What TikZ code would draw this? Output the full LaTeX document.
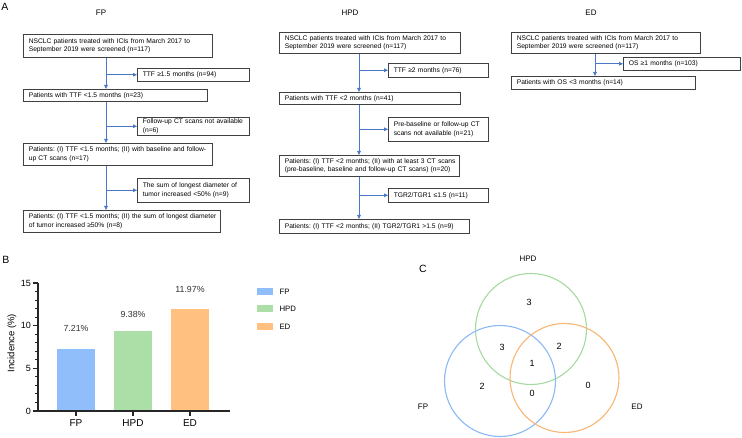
\documentclass[tikz,border=0pt]{standalone}
\usepackage{fontspec}
\setmainfont{Liberation Sans}
\usetikzlibrary{arrows.meta}
\definecolor{arrowblue}{HTML}{4A78C8}
\definecolor{fpblue}{HTML}{8FBEFA}
\definecolor{hpdgreen}{HTML}{ACDEA8}
\definecolor{edorange}{HTML}{FFC080}
\definecolor{vblue}{HTML}{8CBAF5}
\definecolor{vgreen}{HTML}{A6DBA0}
\definecolor{vorange}{HTML}{F9B675}
\begin{document}
\begin{tikzpicture}[x=1pt,y=-1pt,
  fbox/.style={draw=black!75, line width=0.6pt, anchor=north west, align=left,
    font=\fontsize{6.7}{8.4}\selectfont\frenchspacing, inner xsep=5.5pt, inner ysep=0pt},
  arr/.style={draw=arrowblue, line width=0.8pt, -{Triangle[length=4pt,width=3.6pt]}},
  title/.style={font=\fontsize{8}{9.6}\selectfont},
  panel/.style={font=\fontsize{10.5}{12}\selectfont},
  axis/.style={line width=1.1pt, black!85},
  ticklab/.style={font=\fontsize{9}{10}\selectfont},
  vallab/.style={font=\fontsize{8.8}{10}\selectfont, black!80},
  leglab/.style={font=\fontsize{7.8}{9}\selectfont, anchor=west},
  vlab/.style={font=\fontsize{8}{9}\selectfont},
  vnum/.style={font=\fontsize{9}{10}\selectfont},
  vcirc/.style={line width=1.1pt}
 ]
\useasboundingbox (0,0) rectangle (742,438);
\fill[white] (0,0) rectangle (742,438);

% ---------- Panel A ----------
\node[panel] (lA) at (5,7) {A};
\node[title] (tFP) at (101,13) {FP};
\node[title] (tHPD) at (350,13) {HPD};
\node[title] (tED) at (591,13) {ED};

% FP
\coordinate (fx) at (106,0);
\node[fbox, text width=178pt, minimum height=23pt] (f1) at (23,34)
  {\mbox{NSCLC patients treated with ICIs from March 2017 to}\\\mbox{September 2019 were screened (n=117)}};
\node[fbox, text width=101pt, minimum height=13pt] (fs1) at (137,68)
  {\mbox{TTF ≥1.5 months (n=94)}};
\node[fbox, text width=173pt, minimum height=12pt] (f2) at (23,89)
  {\mbox{Patients with TTF <1.5 months (n=23)}};
\node[fbox, text width=101pt, minimum height=18pt] (fs2) at (137,117)
  {\mbox{Follow-up CT scans not available}\\\mbox{(n=6)}};
\node[fbox, text width=178pt, minimum height=22pt] (f3) at (23,143)
  {\mbox{Patients: (I) TTF <1.5 months; (II) with baseline and follow-}\\\mbox{up CT scans (n=17)}};
\node[fbox, text width=101pt, minimum height=24pt] (fs3) at (137,178)
  {\mbox{The sum of longest diameter of}\\\mbox{tumor increased <50\% (n=9)}};
\node[fbox, text width=186pt, minimum height=22pt] (f4) at (23,210)
  {\mbox{Patients: (I) TTF <1.5 months; (II) the sum of longest diameter}\\\mbox{of tumor increased ≥50\% (n=8)}};
\draw[arr] (f1.south -| fx) -- (f2.north -| fx);
\draw[arr] (f2.south -| fx) -- (f3.north -| fx);
\draw[arr] (f3.south -| fx) -- (f4.north -| fx);
\draw[arr] (fs1.west -| fx) -- (fs1.west);
\draw[arr] (fs2.west -| fx) -- (fs2.west);
\draw[arr] (fs3.west -| fx) -- (fs3.west);

% HPD
\coordinate (hx) at (359,0);
\node[fbox, text width=170pt, minimum height=21pt] (h1) at (279,32)
  {\mbox{NSCLC patients treated with ICIs from March 2017 to}\\\mbox{September 2019 were screened (n=117)}};
\node[fbox, text width=89pt, minimum height=14pt] (hs1) at (388,63)
  {\mbox{TTF ≥2 months (n=76)}};
\node[fbox, text width=170pt, minimum height=12pt] (h2) at (279,92)
  {\mbox{Patients with TTF <2 months (n=41)}};
\node[fbox, text width=89pt, minimum height=24pt] (hs2) at (388,117)
  {\mbox{Pre-baseline or follow-up CT}\\\mbox{scans not available (n=21)}};
\node[fbox, text width=169pt, minimum height=21pt] (h3) at (279,155)
  {\mbox{Patients: (I) TTF <2 months; (II) with at least 3 CT scans}\\\mbox{(pre-baseline, baseline and follow-up CT scans) (n=20)}};
\node[fbox, text width=89pt, minimum height=14pt] (hs3) at (388,188)
  {\mbox{TGR2/TGR1 ≤1.5 (n=11)}};
\node[fbox, text width=179pt, minimum height=14pt] (h4) at (279,219)
  {\mbox{Patients: (I) TTF <2 months; (II) TGR2/TGR1 >1.5 (n=9)}};
\draw[arr] (h1.south -| hx) -- (h2.north -| hx);
\draw[arr] (h2.south -| hx) -- (h3.north -| hx);
\draw[arr] (h3.south -| hx) -- (h4.north -| hx);
\draw[arr] (hs1.west -| hx) -- (hs1.west);
\draw[arr] (hs2.west -| hx) -- (hs2.west);
\draw[arr] (hs3.west -| hx) -- (hs3.west);

% ED
\coordinate (ex) at (595,0);
\node[fbox, text width=178pt, minimum height=21pt] (e1) at (511,32)
  {\mbox{NSCLC patients treated with ICIs from March 2017 to}\\\mbox{September 2019 were screened (n=117)}};
\node[fbox, text width=106pt, minimum height=13pt] (es1) at (623,57)
  {\mbox{OS ≥1 months (n=103)}};
\node[fbox, text width=173pt, minimum height=13pt] (e2) at (511,76)
  {\mbox{Patients with OS <3 months (n=14)}};
\draw[arr] (e1.south -| ex) -- (e2.north -| ex);
\draw[arr] (es1.west -| ex) -- (es1.west);

% ---------- Panel B ----------
\node[panel] (lB) at (6,260) {B};
\fill[fpblue] (57,411) rectangle (95,349.5);
\fill[hpdgreen] (114,411) rectangle (152,331);
\fill[edorange] (171,411) rectangle (209,308.9);
\foreach \v in {1,...,14} \draw[line width=0.9pt, black!85] (38,{411-8.533*\v}) -- (35,{411-8.533*\v});
\foreach \v in {0,5,10,15} {
  \draw[axis] (38,{411-8.533*\v}) -- (33,{411-8.533*\v});
  \node[ticklab, anchor=east, inner sep=1pt] (yt\v) at (32,{411-8.533*\v}) {\v};
}
\draw[axis] (38,411) -- (38,283);
\draw[axis] (37.45,411) -- (230,411);
\foreach \xx/\nm in {76/FP,133/HPD,190/ED} {
  \draw[axis] (\xx,411) -- (\xx,415.5);
  \node[font=\fontsize{10}{11}\selectfont] (xl\nm) at (\xx,423.5) {\nm};
}
\node[font=\fontsize{9.5}{11}\selectfont, rotate=90] (ylab) at (12,343) {Incidence (\%)};
\node[vallab] (v1) at (76,328) {7.21\%};
\node[vallab] (v2) at (133,314) {9.38\%};
\node[vallab] (v3) at (190,289) {11.97\%};
% legend
\fill[fpblue] (257,288.5) rectangle (273,295.5);
\fill[hpdgreen] (257,305.5) rectangle (273,312.5);
\fill[edorange] (257,323.5) rectangle (273,330.5);
\node[leglab] (lg1) at (276,292) {FP};
\node[leglab] (lg2) at (276,309) {HPD};
\node[leglab] (lg3) at (276,327) {ED};

% ---------- Panel C ----------
\node[panel] (lC) at (423,269) {C};
\draw[vcirc, vgreen] (531,329) circle (55.5);
\draw[vcirc, vblue] (500,381) circle (55.5);
\draw[vcirc, vorange] (564.5,378) circle (54.5);
\node[vlab] (cH) at (528,259) {HPD};
\node[vlab] (cF) at (423,407) {FP};
\node[vlab] (cE) at (637,407) {ED};
\node[vnum] (n1) at (529,302) {3};
\node[vnum] (n2) at (502,347) {3};
\node[vnum] (n3) at (559,346) {2};
\node[vnum] (n4) at (532,363) {1};
\node[vnum] (n5) at (482,386) {2};
\node[vnum] (n6) at (532,393) {0};
\node[vnum] (n7) at (588,385) {0};
\end{tikzpicture}
\end{document}
